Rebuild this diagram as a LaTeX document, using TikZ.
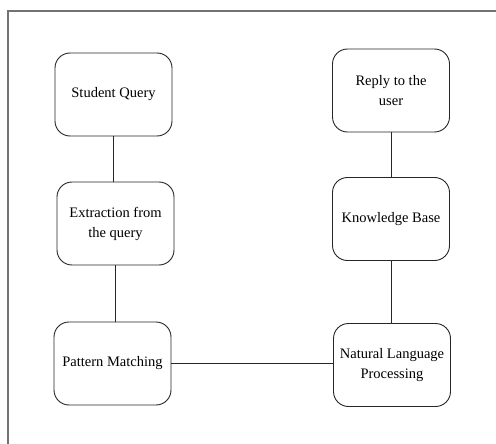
\documentclass[tikz,border=0pt]{standalone}
\usepackage{fontspec}
\setmainfont{Liberation Serif}
\begin{document}
\begin{tikzpicture}[x=1pt,y=1pt,
  stepbox/.style={draw=black!85, line width=0.9pt, rounded corners=15pt,
    minimum width=117pt, minimum height=83pt, align=center,
    font=\fontsize{14.5}{20}\selectfont, inner sep=2pt},
  link/.style={draw=black!85, line width=0.9pt},
  frame/.style={draw=black!55, line width=1.3pt}]
\useasboundingbox (0,-444) rectangle (496,0);
\fill[white] (0,-444) rectangle (496,0);
\coordinate (fa) at (8,-444);
\coordinate (fb) at (8,-11);
\coordinate (fc) at (496,-11);
\draw[frame] (fa) -- (fb) -- (fc);

\node[stepbox] (sq) at (113.5,-94.5) {Student Query};
\node[stepbox] (ex) at (115.5,-223.5) {Extraction from\\the query};
\node[stepbox] (pm) at (112.5,-363.5) {Pattern Matching};
\node[stepbox] (rp) at (391,-90.5) {Reply to the\\user};
\node[stepbox] (kb) at (391,-219) {Knowledge Base};
\node[stepbox] (nlp) at (392,-365) {Natural Language\\Processing};

\draw[link] (sq.south) -- (sq.south |- ex.north);
\draw[link] (ex.south) -- (ex.south |- pm.north);
\draw[link] (rp.south) -- (rp.south |- kb.north);
\draw[link] (kb.south) -- (kb.south |- nlp.north);
\draw[link] (pm.east) -- (pm.east -| nlp.west);
\end{tikzpicture}
\end{document}
